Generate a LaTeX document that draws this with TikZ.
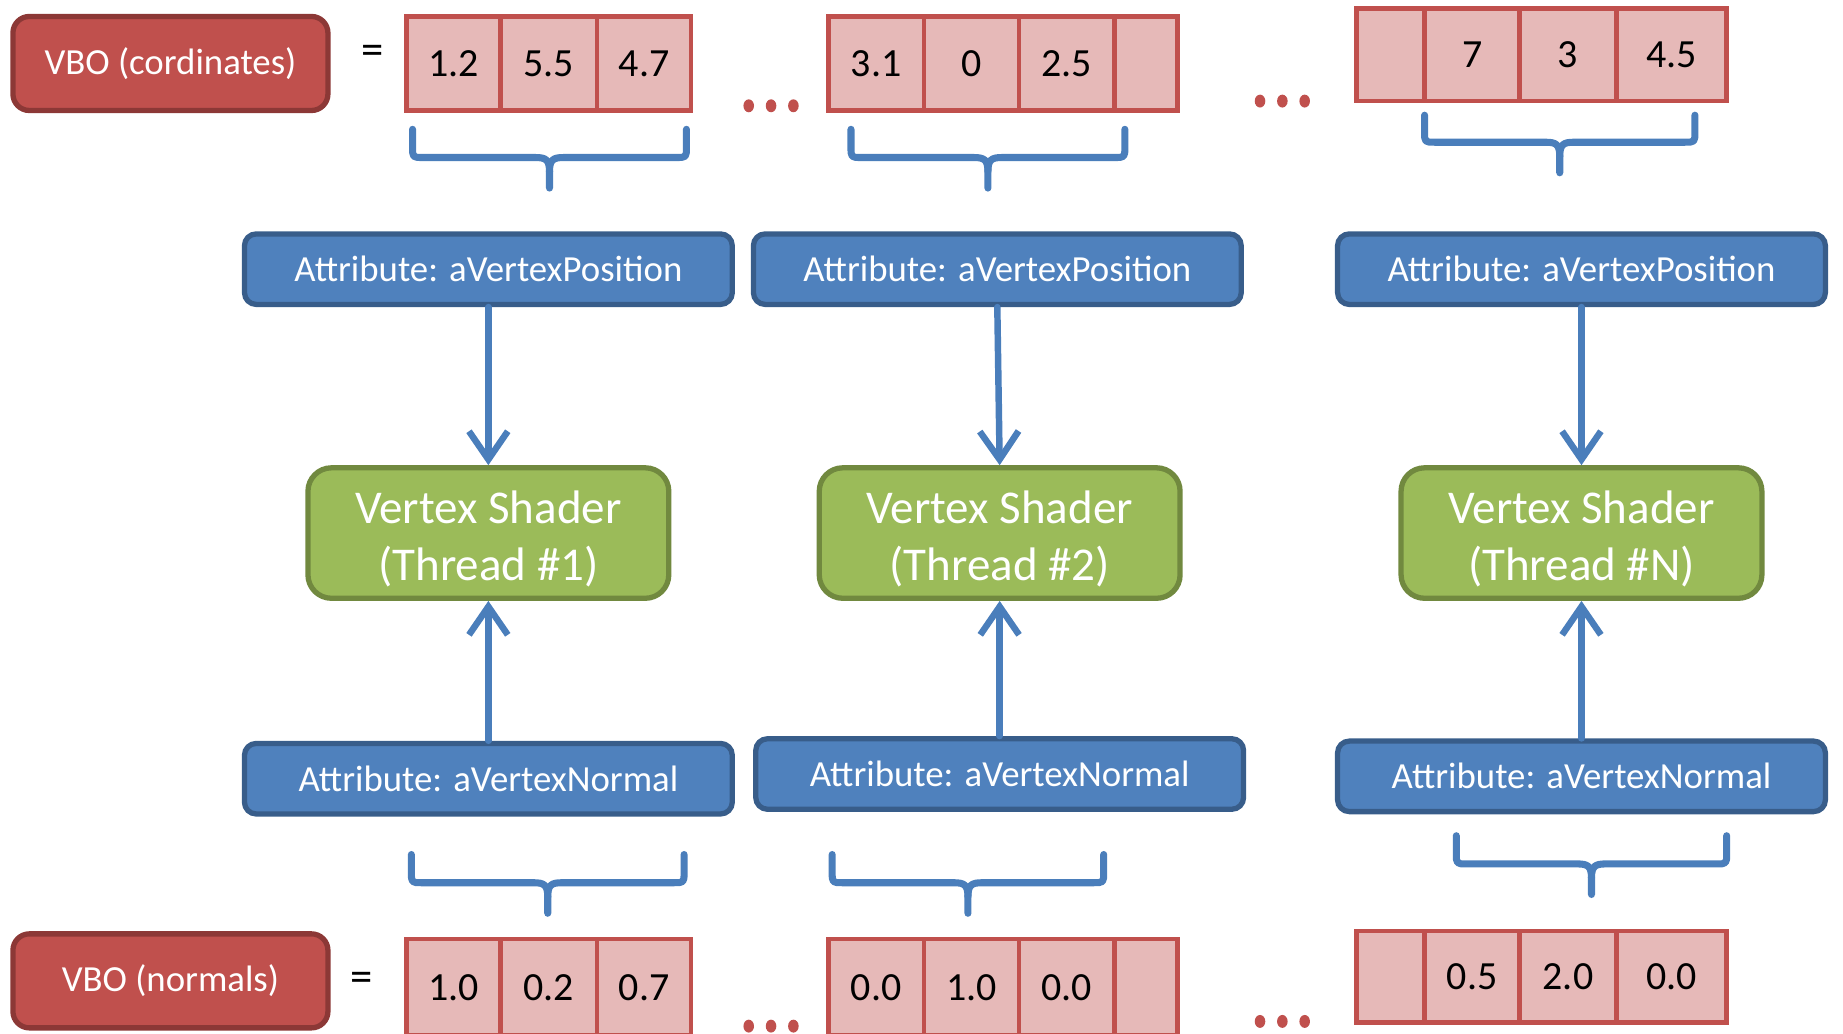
\documentclass[tikz,border=0pt]{standalone}
\usepackage{fontspec}
\setmainfont{Carlito}
\usetikzlibrary{arrows.meta}
\definecolor{vbofill}{HTML}{C0504D}
\definecolor{vboline}{HTML}{8C3836}
\definecolor{cellfill}{HTML}{E6B9B8}
\definecolor{cellline}{HTML}{C0504D}
\definecolor{attrfill}{HTML}{4F81BD}
\definecolor{attrline}{HTML}{385D8A}
\definecolor{shfill}{HTML}{9BBB59}
\definecolor{shline}{HTML}{71893F}
\definecolor{conncol}{HTML}{4A7EBB}
\newcommand\lblfont{\fontsize{31.3}{36}\selectfont}
\newcommand\eqfont{\fontsize{38}{40}\selectfont}
\newcommand\numfont{\fontsize{34}{40}\selectfont}
\newcommand\shfont{\fontsize{40}{48}\selectfont}
\newcommand\vcell[6]{%
  \pgfmathsetmacro\cw{#3-#2}\pgfmathsetmacro\ch{#5-#4}%
  \pgfmathsetmacro\cx{(#2+#3)/2}\pgfmathsetmacro\cy{(#4+#5)/2}%
  \node[cellbox, minimum width=\cw pt, minimum height=\ch pt] (#1) at (\cx,\cy) {#6};}
\newcommand\vbrace[5]{% x1 x2 ytop yh ytip
  \pgfmathsetmacro\bc{(#1+#2)/2}%
  \draw[brace] (#1,#3) -- (#1,#4-9) .. controls (#1,#4) .. (#1+9,#4) -- (\bc-12,#4)
     .. controls (\bc-3,#4) and (\bc,#4+2) .. (\bc,#4+12) -- (\bc,#5);
  \draw[brace] (#2,#3) -- (#2,#4-9) .. controls (#2,#4) .. (#2-9,#4) -- (\bc+12,#4)
     .. controls (\bc+3,#4) and (\bc,#4+2) .. (\bc,#4+12);}
\newcommand\reddots[2]{%
  \fill[cellline] (#1-19,#2) ellipse [x radius=4.5, y radius=5.5];
  \fill[cellline] (#1,#2) ellipse [x radius=4.5, y radius=5.5];
  \fill[cellline] (#1+19,#2) ellipse [x radius=4.5, y radius=5.5];}
\newcommand\shtext[1]{\rule{0pt}{38pt}Vertex Shader\\(Thread \##1)}
\begin{document}
\begin{tikzpicture}[x=1pt,y=-1pt,
  vbo/.style={draw=vboline, fill=vbofill, line width=4.5pt, rounded corners=14pt,
    text=white, font=\lblfont, inner sep=0pt, minimum width=268pt, minimum height=80pt},
  attr/.style={draw=attrline, fill=attrfill, line width=4.5pt, rounded corners=10pt,
    text=white, font=\lblfont, inner sep=0pt, minimum width=415pt, minimum height=60pt},
  shader/.style={draw=shline, fill=shfill, line width=4.5pt, rounded corners=20pt,
    text=white, font=\shfont, align=center, inner sep=0pt, minimum width=307pt, minimum height=111pt},
  cellbox/.style={draw=cellline, fill=cellfill, line width=4pt, font=\numfont, inner sep=0pt, text=black},
  eqsign/.style={font=\eqfont, inner sep=0pt, text=black},
  conn/.style={draw=conncol, line width=5.5pt, line cap=round,
    -{Straight Barb[length=24pt, width=33pt, line width=5.5pt]}},
  brace/.style={draw=conncol, line width=6pt, line cap=round, line join=round},
  ]
\useasboundingbox (0,0) rectangle (1568,879);
% top row
\node[vbo] (vboc) at (145,54) {VBO (cordinates)};
\node[eqsign] (eqc) at (317,47) {=};
\vcell{c11}{346}{426}{14}{94}{1.2}
\vcell{c12}{426}{508}{14}{94}{5.5}
\vcell{c13}{508}{588}{14}{94}{4.7}
\reddots{656}{90}
\vcell{c21}{705}{786}{14}{94}{3.1}
\vcell{c22}{786}{867}{14}{94}{0}
\vcell{c23}{867}{948}{14}{94}{2.5}
\vcell{c24}{948}{1002}{14}{94}{}
\reddots{1091}{86}
\vcell{c31}{1154}{1212}{7}{86}{}
\vcell{c32}{1212}{1293}{7}{86}{7}
\vcell{c33}{1293}{1375}{7}{86}{3}
\vcell{c34}{1375}{1469}{7}{86}{4.5}
\vbrace{351}{584}{110}{134}{160}
\vbrace{724}{957}{110}{134}{160}
\vbrace{1212}{1442}{98}{121}{147}
% attributes
\node[attr] (a1) at (415.5,229) {Attribute: aVertexPosition};
\node[attr] (a2) at (848.5,229) {Attribute: aVertexPosition};
\node[attr] (a3) at (1345.5,229) {Attribute: aVertexPosition};
% shaders
\node[shader] (s1) at (415.5,453.5) {\shtext{1}};
\node[shader] (s2) at (850.5,453.5) {\shtext{2}};
\node[shader] (s3) at (1345.5,453.5) {\shtext{N}};
% normals
\node[attr] (n1) at (415.5,662.5) {Attribute: aVertexNormal};
\node[attr] (n2) at (850.5,658.5) {Attribute: aVertexNormal};
\node[attr] (n3) at (1345.5,660.5) {Attribute: aVertexNormal};
% arrows
\draw[conn] (a1.south) -- (s1.north);
\draw[conn] (a2.south) -- (s2.north);
\draw[conn] (a3.south) -- (s3.north);
\draw[conn] (n1.north) -- (s1.south);
\draw[conn] (n2.north) -- (s2.south);
\draw[conn] (n3.north) -- (s3.south);
% bottom braces
\vbrace{350}{582}{727}{751}{777}
\vbrace{708}{939}{727}{751}{777}
\vbrace{1239}{1469}{711}{735}{761}
% bottom row
\node[vbo] (vbon) at (145,834.5) {VBO (normals)};
\node[eqsign] (eqn) at (308,835) {=};
\vcell{d11}{346}{426}{799}{881}{1.0}
\vcell{d12}{426}{508}{799}{881}{0.2}
\vcell{d13}{508}{588}{799}{881}{0.7}
\reddots{656}{873}
\vcell{d21}{705}{786}{799}{881}{0.0}
\vcell{d22}{786}{867}{799}{881}{1.0}
\vcell{d23}{867}{948}{799}{881}{0.0}
\vcell{d24}{948}{1002}{799}{881}{}
\reddots{1091}{869}
\vcell{d31}{1154}{1212}{792}{870}{}
\vcell{d32}{1212}{1293}{792}{870}{0.5}
\vcell{d33}{1293}{1375}{792}{870}{2.0}
\vcell{d34}{1375}{1469}{792}{870}{0.0}
\end{tikzpicture}
\end{document}
